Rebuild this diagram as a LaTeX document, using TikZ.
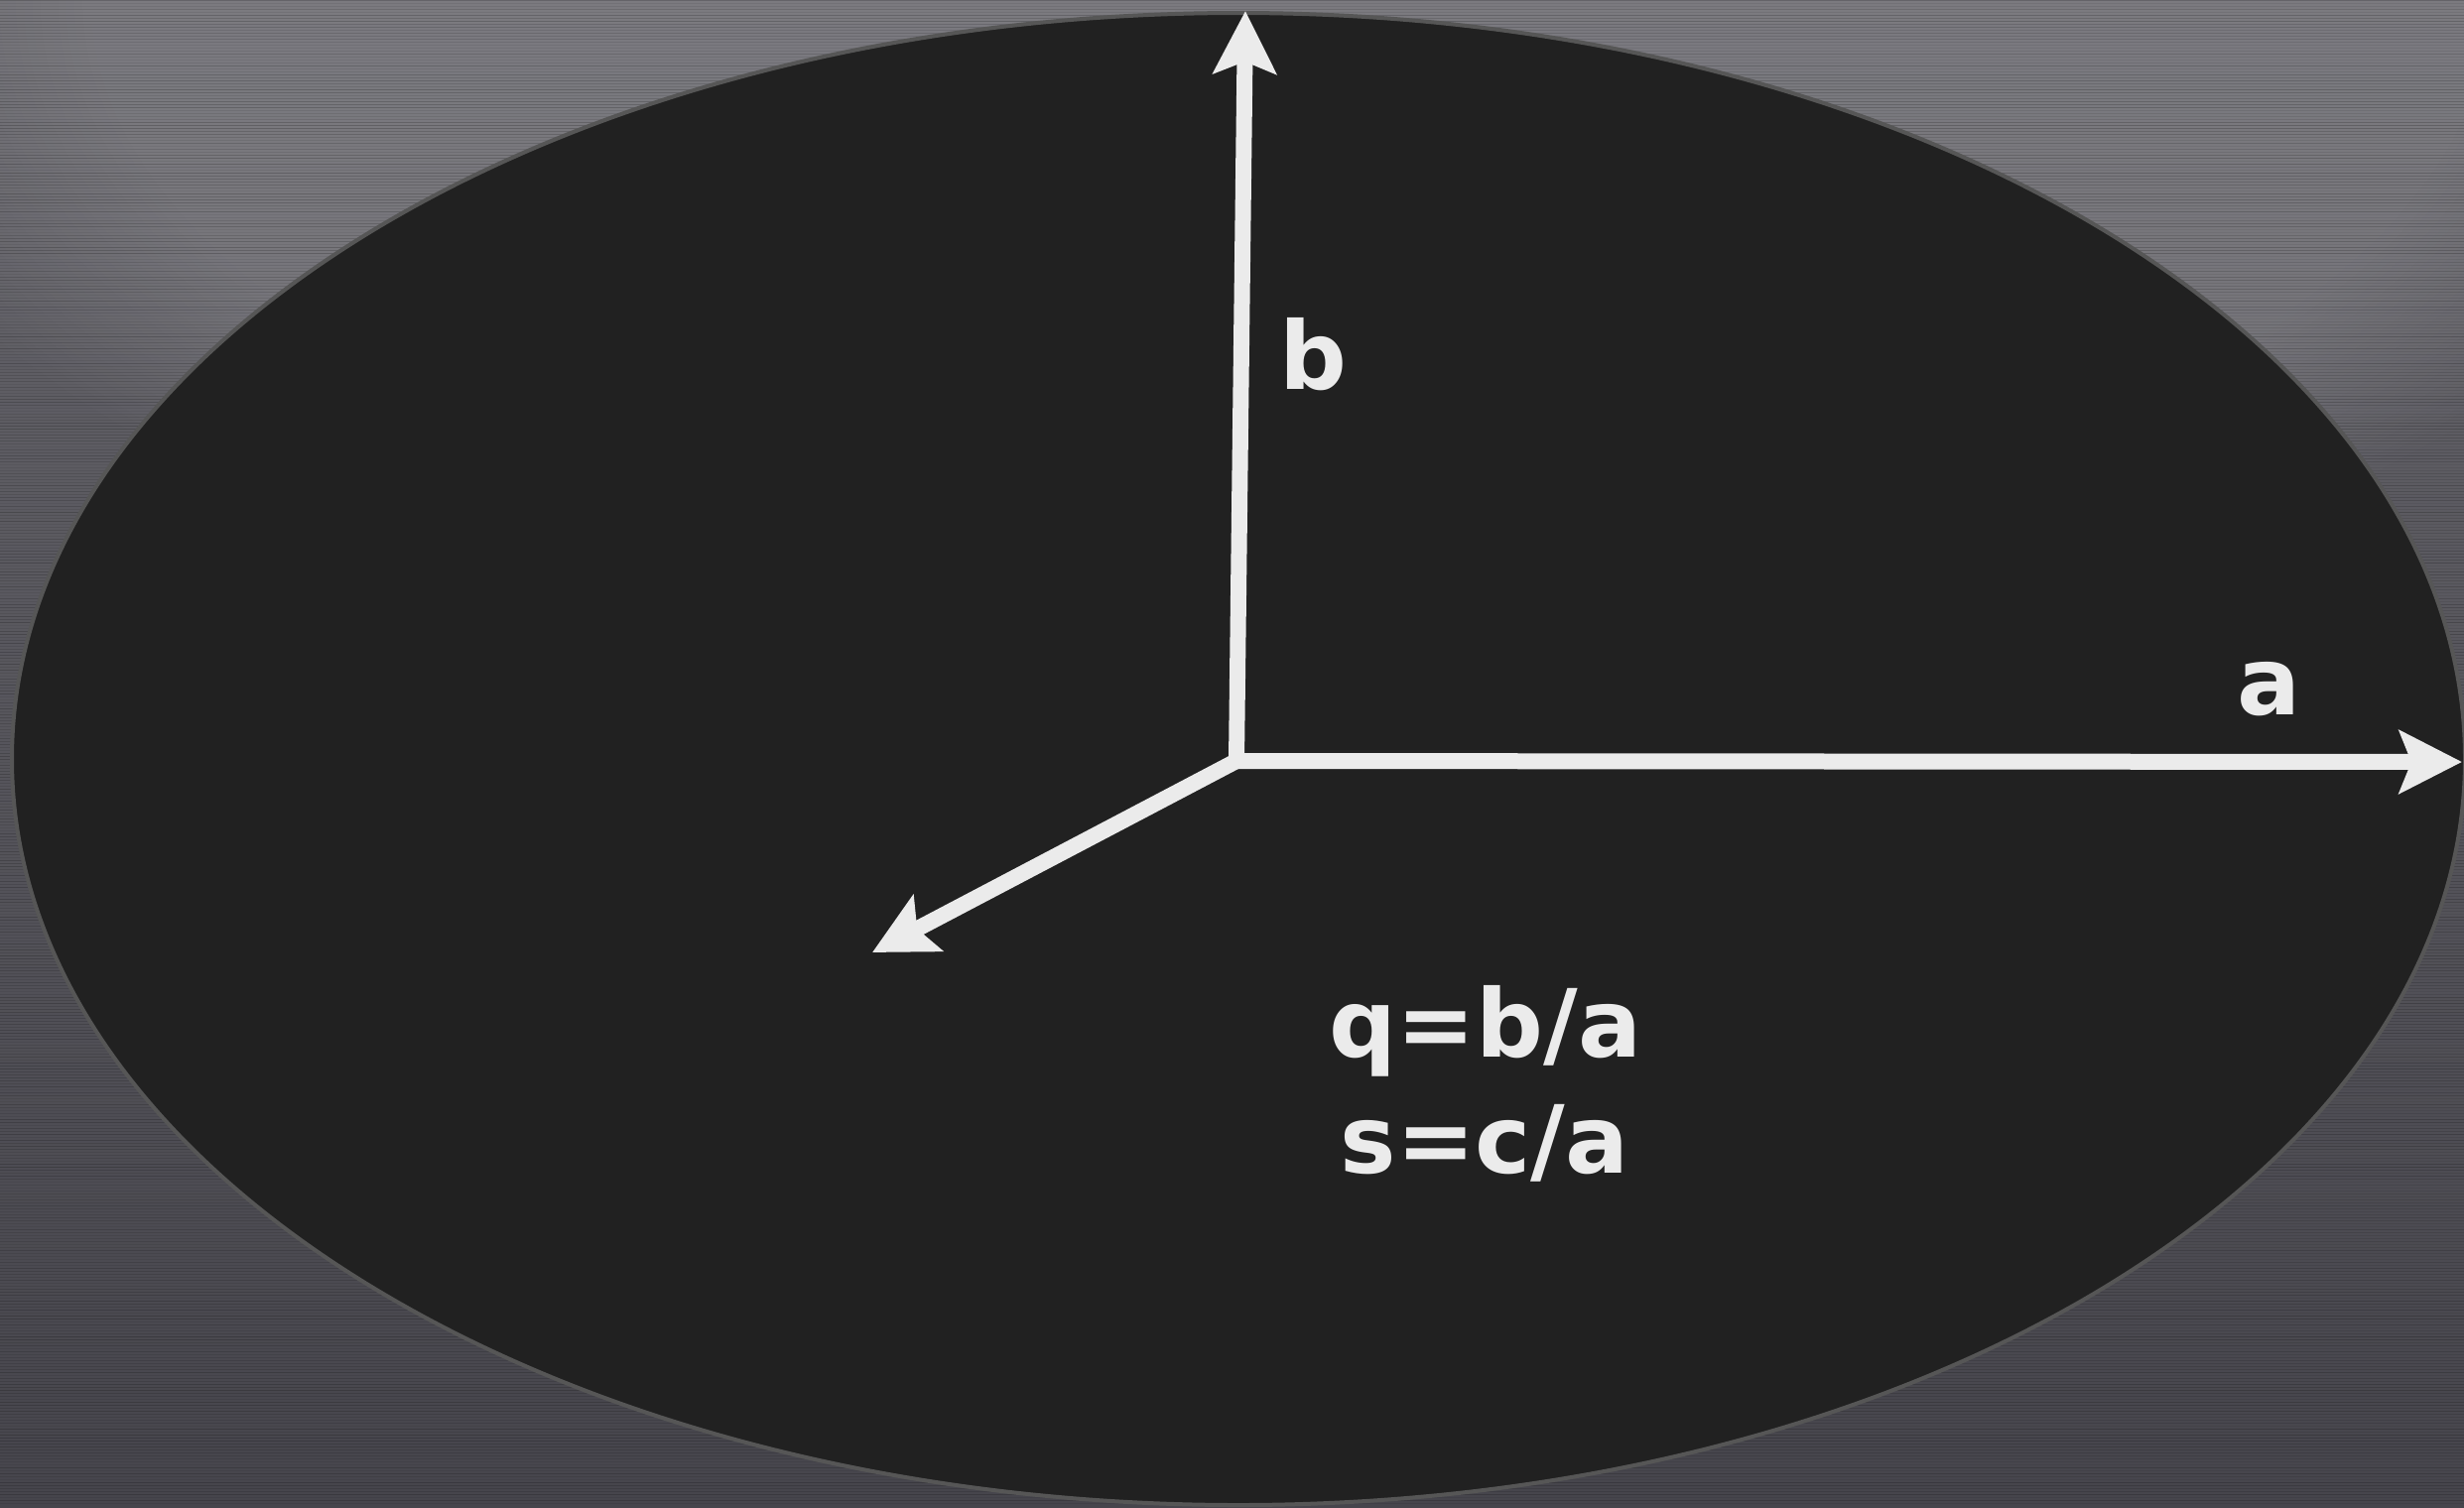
\documentclass[tikz,border=0pt]{standalone}
\usepackage{fontspec}
\setmainfont{DejaVu Sans}
\usetikzlibrary{arrows.meta,positioning,fadings}
\definecolor{bgtop}{HTML}{66656B}
\definecolor{bgbot}{HTML}{46454C}
\definecolor{disk}{HTML}{212121}
\definecolor{rim}{HTML}{565656}
\definecolor{ink}{HTML}{EBEBEB}
\tikzset{
  axis/.style={
    draw=ink,
    line width=1.6mm,
    -{Stealth[length=6.3mm, width=6.3mm, inset=1.2mm]}
  },
  lbl/.style={
    text=ink,
    font=\bfseries\fontsize{27}{33}\selectfont,
    inner sep=0pt,
    anchor=base
  },
  brush/.style={line width=0.1mm}
}

\begin{document}
\begin{tikzpicture}[x=0.1mm, y=-0.1mm]
  \useasboundingbox (0,0) rectangle (2483,1519);

  % -------------------------------------------------------------------
  % brushed background
  % -------------------------------------------------------------------
  \shade[top color=bgtop, bottom color=bgbot] (0,0) rectangle (2483,1519);
  \fill[white, fill opacity=0.14, path fading=circle with fuzzy edge 20 percent]
    (1300,0) ellipse [x radius=1500, y radius=700];
  \pgfmathsetseed{7}
  \begin{scope}
    \clip (0,0) rectangle (2483,1519);
    \foreach \i [evaluate=\i as \op using {0.05+0.15*rnd}] in {0,...,505}
      \draw[brush, black, opacity=\op] (0,3*\i) -- (2483,3*\i);
  \end{scope}

  % -------------------------------------------------------------------
  % ellipse and axes
  % -------------------------------------------------------------------
  \fill[disk, draw=rim, line width=0.4mm]
    (1248,765) ellipse [x radius=1236, y radius=752];

  \coordinate (ctr) at (1246,767);
  \coordinate (atip) at (2481,768);
  \coordinate (btip) at (1255,11);
  \coordinate (ctip) at (879,960);

  \draw[axis] (ctr) -- (btip);
  \draw[axis] (ctr) -- (atip);
  \draw[axis] (ctr) -- (ctip);

  \node[lbl, anchor=base west] (blabel) at (1289,392) {b};
  \node[lbl, anchor=base west] (alabel) at (2254,720) {a};
  \node[lbl] (qratio) at (1497,1065) {q=b/a};
  \node[lbl] (sratio) at (1496,1182) {s=c/a};

\end{tikzpicture}
\end{document}
